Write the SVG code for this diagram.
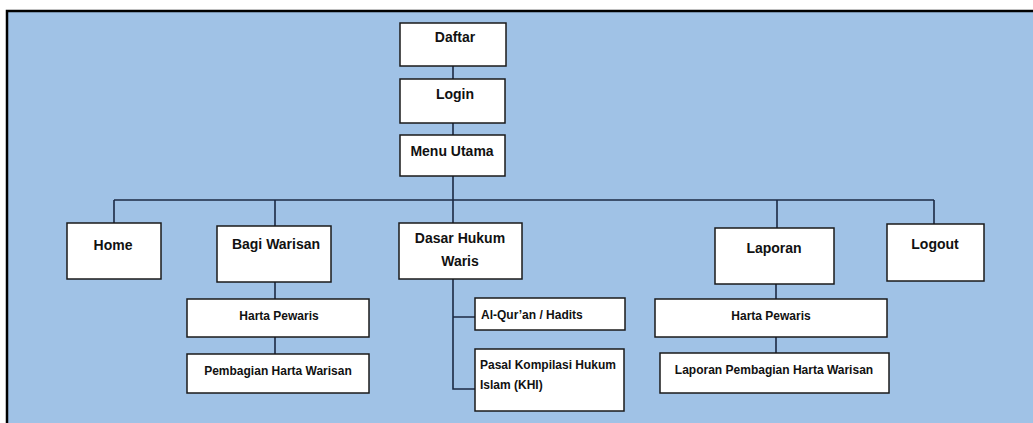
<svg xmlns="http://www.w3.org/2000/svg" width="1033" height="423" viewBox="0 0 1033 423">
<style>
.box{fill:#fff;stroke:#1a1a1a;stroke-width:1.5}
.t{font-family:"Liberation Sans",Arial,sans-serif;font-weight:bold;font-size:14px;fill:#111;text-anchor:middle}
.s{font-size:12px}
.l{text-anchor:start}
.c{stroke:#1c2a44;stroke-width:1.6;fill:none}
</style>
<rect x="0" y="0" width="1033" height="423" fill="#fff"/>
<rect x="7" y="11" width="1026" height="412" fill="#a0c2e6"/>
<path d="M7 423 V11 H1033" fill="none" stroke="#000" stroke-width="2.5"/>
<g id="connectors">
<path class="c" d="M453 66 V79 M453 123 V135 M453 176 V200"/>
<path class="c" d="M114 200 H934" stroke-width="2.4"/>
<path class="c" d="M114 200 V223 M275 200 V226 M453 200 V223 M777 200 V228 M934 200 V224"/>
<path class="c" d="M275 282 V299 M275 337 V354"/>
<path class="c" d="M453 279 V389 H475 M453 317 H475" stroke-width="1.8"/>
<path class="c" d="M776 284 V299 M776 337 V353"/>
</g>
<g id="daftar"><rect class="box" x="400" y="23" width="106" height="43"/><text class="t" x="455" y="42">Daftar</text></g>
<g id="login"><rect class="box" x="400" y="79" width="105" height="44"/><text class="t" x="455" y="99">Login</text></g>
<g id="menu-utama"><rect class="box" x="400" y="135" width="105" height="41"/><text class="t" x="452" y="156">Menu Utama</text></g>
<g id="home"><rect class="box" x="67" y="223" width="94" height="56"/><text class="t" x="113" y="250">Home</text></g>
<g id="bagi-warisan"><rect class="box" x="217" y="226" width="114" height="56"/><text class="t" x="276" y="249">Bagi Warisan</text></g>
<g id="dasar-hukum"><rect class="box" x="399" y="223" width="123" height="56"/><text class="t" x="460" y="243">Dasar Hukum</text><text class="t" x="460" y="266">Waris</text></g>
<g id="laporan"><rect class="box" x="715" y="228" width="119" height="56"/><text class="t" x="774" y="253">Laporan</text></g>
<g id="logout"><rect class="box" x="887" y="224" width="97" height="57"/><text class="t" x="935" y="249">Logout</text></g>
<g id="harta-pewaris-1"><rect class="box" x="187" y="299" width="182" height="38"/><text class="t s" x="279" y="320">Harta Pewaris</text></g>
<g id="pembagian-harta"><rect class="box" x="187" y="354" width="182" height="39"/><text class="t s" x="278" y="375">Pembagian Harta Warisan</text></g>
<g id="al-quran"><rect class="box" x="475" y="298" width="150" height="32"/><text class="t s l" x="481" y="319">Al-Qur’an / Hadits</text></g>
<g id="pasal-khi"><rect class="box" x="475" y="349" width="149" height="62"/><text class="t s l" x="480" y="369">Pasal Kompilasi Hukum</text><text class="t s l" x="480" y="389">Islam (KHI)</text></g>
<g id="harta-pewaris-2"><rect class="box" x="655" y="299" width="232" height="38"/><text class="t s" x="771" y="320">Harta Pewaris</text></g>
<g id="laporan-pembagian"><rect class="box" x="660" y="353" width="229" height="40"/><text class="t s" x="774" y="374">Laporan Pembagian Harta Warisan</text></g>
</svg>
